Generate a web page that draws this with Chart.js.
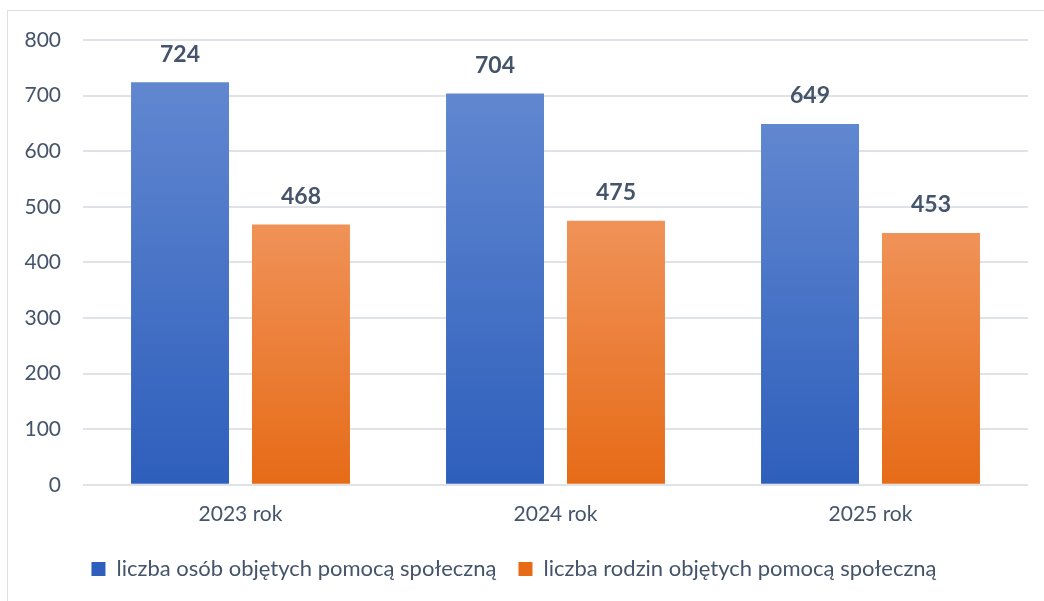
<!DOCTYPE html>
<html>
<head>
<meta charset="utf-8">
<script src="https://cdn.jsdelivr.net/npm/chart.js@4"></script>
<style>
  body { margin: 0; background: #fff; }
  #frame { position: absolute; left: 7px; top: 10px; width: 1044px; height: 600px; border: 1px solid #dcdfe4; }
  #wrap { position: absolute; left: 0; top: 0; width: 1044px; height: 601px; }
</style>
</head>
<body>
<div id="frame"></div>
<div id="wrap"><canvas id="chart_social"></canvas></div>
<script>
const years = ['2023 rok', '2024 rok', '2025 rok'];
const persons = [724, 704, 649];
const families = [468, 475, 453];

const textColor = '#44546a';

function barGradient(top, bottom) {
    return function (context) {
        let chart = context.chart;
        if (!chart.chartArea || context.raw === undefined) return bottom;
        let y = chart.scales.y;
        let y0 = y.getPixelForValue(context.raw);
        let y1 = y.getPixelForValue(0);
        let g = chart.ctx.createLinearGradient(0, y0, 0, y1);
        g.addColorStop(0, top);
        g.addColorStop(1, bottom);
        return g;
    };
}

// value labels above bars
const valueLabels = {
    id: 'valueLabels',
    afterDatasetsDraw(chart) {
        let ctx = chart.ctx;
        ctx.save();
        ctx.font = 'bold 23px Lato';
        ctx.fillStyle = textColor;
        ctx.textAlign = 'center';
        ctx.textBaseline = 'middle';
        chart.data.datasets.forEach(function (ds, i) {
            chart.getDatasetMeta(i).data.forEach(function (bar, j) {
                ctx.fillText(ds.data[j], bar.x, bar.y - 28);
            });
        });
        ctx.restore();
    }
};

let ctx_social = document.getElementById('chart_social');
let chart_social = new Chart(ctx_social, {
    type: 'bar',
    data: {
        labels: years,
        datasets: [{
            label: 'liczba osób objętych pomocą społeczną',
            data: persons,
            backgroundColor: barGradient('#6187d0', '#2e5fbc'),
            categoryPercentage: 0.768,
            barPercentage: 0.81
        }, {
            label: 'liczba rodzin objętych pomocą społeczną',
            data: families,
            backgroundColor: barGradient('#f09258', '#e66b17'),
            categoryPercentage: 0.768,
            barPercentage: 0.81
        }]
    },
    options: {
        responsive: true,
        maintainAspectRatio: false,
        animation: false,
        layout: {
            padding: { top: 40, right: 16, bottom: 11, left: 0 }
        },
        scales: {
            x: {
                grid: { display: false },
                border: { display: false },
                ticks: {
                    color: textColor,
                    font: { family: 'Lato', size: 21 },
                    padding: 9
                }
            },
            y: {
                min: 0,
                max: 800,
                ticks: {
                    stepSize: 100,
                    color: textColor,
                    font: { family: 'Lato', size: 21 },
                    padding: 22
                },
                grid: {
                    color: '#dfe2e7',
                    lineWidth: 2,
                    drawTicks: false
                },
                border: { display: false },
                afterFit: function (scale) { scale.width = 83; }
            }
        },
        plugins: {
            legend: {
                position: 'bottom',
                labels: {
                    color: textColor,
                    font: { family: 'Lato', size: 22 },
                    boxWidth: 14,
                    boxHeight: 14,
                    padding: 22
                }
            },
            tooltip: { enabled: false }
        }
    },
    plugins: [valueLabels]
});
</script>
</body>
</html>
